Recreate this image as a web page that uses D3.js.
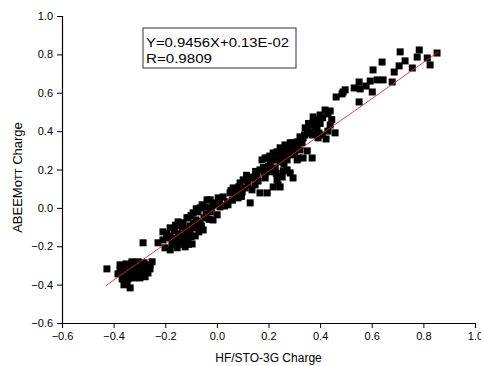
<!DOCTYPE html>
<html>
<head>
<meta charset="utf-8">
<script src="https://cdn.jsdelivr.net/npm/d3@7"></script>
<style>
  body { margin: 0; background: #fff; }
  svg text { font-family: Arial, 'Liberation Sans', sans-serif; fill: #000; }
</style>
</head>
<body>
<div id="chart"></div>
<script>
// HF/STO-3G charge vs ABEEM charge
const samples = [
  // lower-left cluster
  [-0.426, -0.318], [-0.375, -0.297], [-0.352, -0.292], [-0.329, -0.281], [-0.305, -0.281],
  [-0.282, -0.286], [-0.259, -0.297], [-0.251, -0.281], [-0.375, -0.323], [-0.352, -0.318],
  [-0.329, -0.313], [-0.305, -0.313], [-0.282, -0.313], [-0.259, -0.318], [-0.383, -0.344],
  [-0.360, -0.344], [-0.336, -0.344], [-0.313, -0.339], [-0.290, -0.339], [-0.267, -0.339],
  [-0.367, -0.370], [-0.344, -0.370], [-0.321, -0.365], [-0.298, -0.365], [-0.278, -0.359],
  [-0.360, -0.401], [-0.336, -0.417], [-0.348, -0.391],
  // second cluster
  [-0.286, -0.182], [-0.228, -0.182], [-0.209, -0.125], [-0.181, -0.104], [-0.150, -0.073],
  [-0.112, -0.052], [-0.073, -0.021], [-0.057, 0.016], [-0.209, -0.167], [-0.181, -0.146],
  [-0.150, -0.135], [-0.119, -0.125], [-0.088, -0.104], [-0.065, -0.073], [-0.042, -0.031],
  [-0.201, -0.208], [-0.174, -0.188], [-0.143, -0.177], [-0.112, -0.167], [-0.084, -0.146],
  [-0.053, -0.115], [-0.181, -0.219], [-0.154, -0.208], [-0.123, -0.203], [-0.096, -0.188],
  [-0.189, -0.156], [-0.158, -0.167], [-0.127, -0.156], [-0.092, -0.026], [-0.065, 0.000],
  [-0.038, 0.042], [-0.026, -0.021], [-0.015, 0.026], [0.001, -0.036], [-0.015, -0.063],
  [-0.116, -0.052], [-0.131, -0.078], [-0.077, -0.099], [-0.104, -0.130], [-0.104, -0.094],
  [-0.081, -0.063], [-0.050, -0.052],
  [-0.195, -0.135], [-0.165, -0.120], [-0.135, -0.100], [-0.135, -0.190], [-0.100, -0.150],
  [-0.070, -0.125], [-0.165, -0.185], [-0.120, -0.110], [-0.090, -0.080], [-0.060, -0.095],
  [-0.030, -0.060], [-0.100, -0.040], [-0.140, -0.140], [-0.170, -0.160], [-0.080, -0.005],
  [-0.045, 0.005], [-0.020, 0.000], [-0.110, -0.190], [-0.160, -0.090],
  // middle band
  [0.012, 0.005], [0.024, 0.057], [0.040, 0.031], [0.051, 0.078], [0.078, 0.094],
  [0.082, 0.052], [0.063, 0.104], [0.090, 0.130], [0.102, 0.146], [0.117, 0.146],
  [0.129, 0.161], [0.140, 0.156], [0.156, 0.172], [0.167, 0.198], [0.175, 0.250],
  [0.187, 0.260], [0.206, 0.240], [0.195, 0.260], [0.214, 0.250], [0.218, 0.286],
  [0.233, 0.292], [0.245, 0.313], [0.257, 0.302], [0.264, 0.328], [0.272, 0.318],
  [0.284, 0.339], [0.291, 0.339], [0.311, 0.344], [0.322, 0.370], [0.334, 0.365],
  [0.350, 0.396], [0.129, 0.026], [0.167, 0.078], [0.195, 0.078], [0.218, 0.109],
  [0.237, 0.120], [0.245, 0.109], [0.253, 0.161], [0.233, 0.146], [0.272, 0.198],
  [0.295, 0.156], [0.284, 0.182], [0.257, 0.193], [0.272, 0.250], [0.311, 0.250],
  [0.334, 0.260], [0.369, 0.260], [0.315, 0.260], [0.350, 0.297], [0.322, 0.302],
  [0.109, 0.104], [0.148, 0.120], [0.187, 0.156], [0.206, 0.188], [0.226, 0.208],
  [0.245, 0.240], [0.264, 0.260], [0.284, 0.276], [0.303, 0.302], [0.136, 0.094],
  [0.043, 0.016], [0.071, 0.068], [0.098, 0.083], [0.005, 0.052], [-0.007, 0.016],
  [-0.026, 0.042],
  [0.030, 0.010], [0.060, 0.040], [0.055, 0.090], [0.085, 0.110], [0.120, 0.120],
  [0.115, 0.170], [0.150, 0.190], [0.160, 0.140], [0.180, 0.210], [0.200, 0.215],
  [0.225, 0.250], [0.205, 0.270], [0.240, 0.270], [0.255, 0.280], [0.230, 0.180],
  [0.260, 0.230], [0.290, 0.310], [0.300, 0.280], [0.310, 0.330], [0.330, 0.340],
  [0.340, 0.380], [0.010, 0.035], [0.095, 0.060], [0.185, 0.185], [0.275, 0.290],
  // upper band
  [0.373, 0.474], [0.361, 0.432], [0.373, 0.443], [0.353, 0.406], [0.388, 0.406],
  [0.408, 0.380], [0.423, 0.359], [0.439, 0.432], [0.458, 0.391], [0.439, 0.505],
  [0.462, 0.578], [0.489, 0.604], [0.388, 0.458], [0.400, 0.484], [0.419, 0.510],
  [0.342, 0.417], [0.369, 0.380], [0.392, 0.365], [0.551, 0.552],
  [0.355, 0.440], [0.380, 0.420], [0.400, 0.440], [0.410, 0.470], [0.430, 0.400],
  [0.445, 0.460], [0.360, 0.390], [0.395, 0.390], [0.430, 0.490],
  // top scatter
  [0.485, 0.594], [0.497, 0.615], [0.532, 0.625], [0.555, 0.620], [0.551, 0.656],
  [0.578, 0.635], [0.594, 0.661], [0.621, 0.667], [0.644, 0.667], [0.679, 0.656],
  [0.602, 0.604], [0.605, 0.719], [0.640, 0.760], [0.687, 0.708], [0.706, 0.740],
  [0.729, 0.766], [0.710, 0.813], [0.757, 0.729], [0.776, 0.786], [0.784, 0.823],
  [0.815, 0.781], [0.826, 0.745], [0.853, 0.807]
]

const fitSlope = 0.9456
const fitIntercept = 0.0013
const fitRange = [-0.43, 0.86]
const fitLabels = ['Y=0.9456X+0.13E-02', 'R=0.9809']

const xTicks = [-0.6, -0.4, -0.2, 0.0, 0.2, 0.4, 0.6, 0.8, 1.0]
const yTicks = [-0.6, -0.4, -0.2, 0.0, 0.2, 0.4, 0.6, 0.8, 1.0]
const minorTicks = [-0.5, -0.3, -0.1, 0.1, 0.3, 0.5, 0.7, 0.9]

const W = 481, H = 366
const margin = { top: 16, right: 6, bottom: 43, left: 62 }
const iw = W - margin.left - margin.right
const ih = H - margin.top - margin.bottom

const svg = d3.select('#chart').append('svg')
  .attr('width', W)
  .attr('height', H)

const g = svg.append('g').attr('transform', `translate(${margin.left},${margin.top})`)

const x = d3.scaleLinear().domain([-0.6, 1.0]).range([0, iw])
const y = d3.scaleLinear().domain([-0.6, 1.0]).range([ih, 0])

// Axes (major + minor)
const xAxis = g.append('g').attr('transform', `translate(0,${ih})`)
xAxis.call(d3.axisBottom(x).tickValues(minorTicks).tickSize(3).tickFormat(''))
xAxis.call(d3.axisBottom(x).tickValues(xTicks).tickSize(5).tickPadding(4).tickFormat(d3.format('.1f')))

const yAxis = g.append('g')
yAxis.call(d3.axisLeft(y).tickValues(minorTicks).tickSize(3).tickFormat(''))
yAxis.call(d3.axisLeft(y).tickValues(yTicks).tickSize(5).tickPadding(4).tickFormat(d3.format('.1f')))

g.selectAll('.domain').attr('stroke', '#000').attr('stroke-width', 1.2)
g.selectAll('.tick line').attr('stroke', '#000').attr('stroke-width', 1)
g.selectAll('.tick text')
  .attr('font-size', '11px')
  .attr('font-family', 'Arial, "Liberation Sans", sans-serif')
  .attr('fill', '#000')

// Points
const sz = 7
g.append('g')
  .selectAll('rect')
  .data(samples)
  .join('rect')
  .attr('x', d => x(d[0]) - sz / 2)
  .attr('y', d => y(d[1]) - sz / 2)
  .attr('width', sz)
  .attr('height', sz)
  .attr('fill', '#000')

// Fit line
g.append('line')
  .attr('x1', x(fitRange[0]))
  .attr('y1', y(fitSlope * fitRange[0] + fitIntercept))
  .attr('x2', x(fitRange[1]))
  .attr('y2', y(fitSlope * fitRange[1] + fitIntercept))
  .attr('stroke', '#d8283a')
  .attr('stroke-width', 0.9)

// Equation box
const box = svg.append('g').attr('transform', 'translate(143,28)')
box.append('rect')
  .attr('width', 153)
  .attr('height', 40)
  .attr('fill', '#fff')
  .attr('stroke', '#333')
  .attr('stroke-width', 1)
box.selectAll('text')
  .data(fitLabels)
  .join('text')
  .attr('x', 3)
  .attr('y', (d, i) => 19 + i * 16)
  .attr('font-size', '12px')
  .attr('textLength', (d, i) => i === 0 ? 143 : 66)
  .attr('lengthAdjust', 'spacingAndGlyphs')
  .text(d => d)

// Axis titles
svg.append('text')
  .attr('x', margin.left + iw / 2)
  .attr('y', 362)
  .attr('text-anchor', 'middle')
  .attr('font-size', '12px')
  .text('HF/STO-3G Charge')

svg.append('text')
  .attr('transform', `translate(22,${margin.top + ih / 2 + 8}) rotate(-90)`)
  .attr('text-anchor', 'middle')
  .attr('font-size', '13px')
  .text('ABEEMотт Charge')
</script>
</body>
</html>
